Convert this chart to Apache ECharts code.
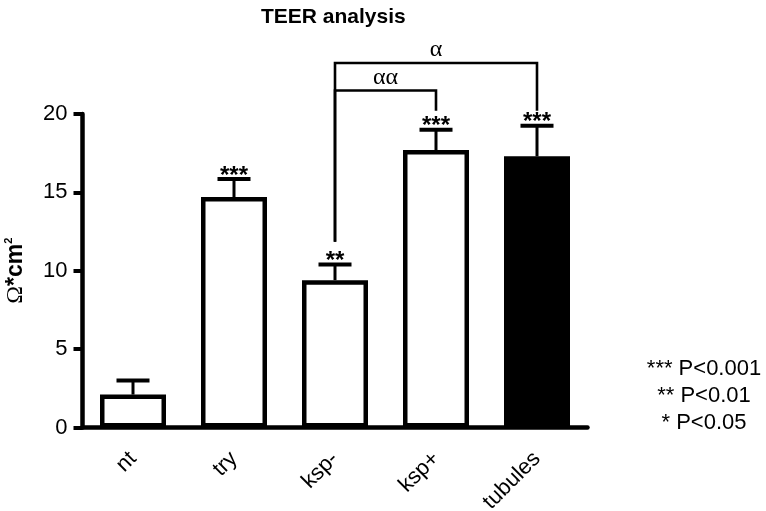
<!DOCTYPE html>
<html>
<head>
<meta charset="utf-8">
<script src="https://cdn.jsdelivr.net/npm/echarts@6/dist/echarts.min.js"></script>
<style>
html,body{margin:0;padding:0;background:#fff;}
#main{width:766px;height:511px;}
</style>
</head>
<body>
<div id="main"></div>
<script>
// values
var categories = ["nt", "try", "ksp-", "ksp+", "tubules"];
var means = [2.1, 14.7, 9.4, 17.7, 17.3];
var sems = [0.9, 1.15, 1.0, 1.3, 1.95];
var stars = ["", "***", "**", "***", "***"];
var yTicks = [0, 5, 10, 15, 20];
// comparison brackets: [from, to, label]
var brackets = [
    ["ksp-", "ksp+", "\u03b1\u03b1"],
    ["ksp-", "tubules", "\u03b1"]
];
var pLegend = ["*** P<0.001", "** P<0.01", "* P<0.05"];

var FONT = "'Liberation Sans', Arial, sans-serif";
var SERIF = "'Liberation Serif', 'DejaVu Serif', serif";

var chart = echarts.init(document.getElementById("main"));

var barData = [];
var errData = [];
for (var i = 0; i < categories.length; i++) {
    barData.push({
        value: means[i],
        itemStyle: { color: categories[i] == "tubules" ? "#000" : "#fff" }
    });
    errData.push([i, means[i], sems[i], stars[i]]);
}

var bracketData = [];
for (var j = 0; j < brackets.length; j++) {
    bracketData.push([categories.indexOf(brackets[j][0]), categories.indexOf(brackets[j][1]), j, brackets[j][2]]);
}

//误差线 + 星号
function renderError(params, api) {
    var x = api.value(0);
    var m = api.value(1);
    var s = api.value(2);
    var base = api.coord([x, m]);
    var top = api.coord([x, m + s]);
    var capHalf = 16.5;
    var children = [
        { type: "line", shape: { x1: top[0], y1: base[1], x2: top[0], y2: top[1] }, style: { stroke: "#000", lineWidth: 3 } },
        { type: "line", shape: { x1: top[0] - capHalf, y1: top[1], x2: top[0] + capHalf, y2: top[1] }, style: { stroke: "#000", lineWidth: 4 } }
    ];
    var label = errData[params.dataIndex][3];
    if (label) {
        children.push({
            type: "text",
            style: { text: label, x: top[0], y: top[1] + 9, align: "center", verticalAlign: "bottom", font: "bold 24px " + FONT, fill: "#000" }
        });
    }
    return { type: "group", children: children };
}

//比较括号
function renderBracket(params, api) {
    var a = api.value(0);
    var b = api.value(1);
    var lvl = api.value(2);
    var yLine = api.coord([a, 21.5 + 1.75 * lvl])[1];
    var pa = api.coord([a, 11.85]);
    var pb = api.coord([b, 20.2]);
    var label = bracketData[params.dataIndex][3];
    return {
        type: "group",
        children: [
            { type: "polyline", shape: { points: [[pa[0], pa[1]], [pa[0], yLine], [pb[0], yLine], [pb[0], pb[1]]] }, style: { stroke: "#000", lineWidth: 2.6, fill: null } },
            { type: "text", style: { text: label, x: (pa[0] + pb[0]) / 2, y: yLine - 1, align: "center", verticalAlign: "bottom", font: "24px " + SERIF, fill: "#000" } }
        ]
    };
}

var option = {
    animation: false,
    backgroundColor: "#fff",
    title: {
        text: "TEER analysis",
        left: 256,
        top: 2,
        textStyle: { fontFamily: FONT, fontWeight: "bold", fontSize: 21, color: "#000" }
    },
    grid: { left: 82.5, right: 178.5, top: 114, bottom: 83.5, containLabel: false, outerBoundsMode: "none" },
    xAxis: {
        type: "category",
        data: categories,
        axisLine: { lineStyle: { color: "#000", width: 4.5 } },
        axisTick: { alignWithLabel: true, length: 9, lineStyle: { color: "#000", width: 4 } },
        axisLabel: { rotate: 45, margin: 28, color: "#000", fontFamily: FONT, fontSize: 22 }
    },
    yAxis: {
        type: "value",
        min: yTicks[0],
        max: yTicks[yTicks.length - 1],
        interval: yTicks[1] - yTicks[0],
        name: "{o|\u03a9}{b|*cm}{s|2}",
        nameLocation: "middle",
        nameGap: 55,
        nameRotate: 90,
        nameTextStyle: {
            rich: {
                o: { fontFamily: SERIF, fontSize: 24, color: "#000" },
                b: { fontFamily: FONT, fontWeight: "bold", fontSize: 23, color: "#000" },
                s: { fontFamily: FONT, fontWeight: "bold", fontSize: 11, color: "#000", verticalAlign: "top", padding: [0, 0, 12, 0] }
            }
        },
        axisLine: { show: true, lineStyle: { color: "#000", width: 4.5 } },
        axisTick: { show: true, length: 9, lineStyle: { color: "#000", width: 4 } },
        axisLabel: { margin: 15, color: "#000", fontFamily: FONT, fontSize: 22 },
        splitLine: { show: false }
    },
    series: [
        {
            type: "bar",
            data: barData,
            barWidth: 66,
            itemStyle: { borderColor: "#000", borderWidth: 4.5 },
            z: 2
        },
        {
            type: "custom",
            data: errData,
            renderItem: renderError,
            clip: false,
            z: 3
        },
        {
            type: "custom",
            data: bracketData,
            renderItem: renderBracket,
            clip: false,
            z: 4
        }
    ],
    graphic: pLegend.map(function (t, k) {
        return {
            type: "text",
            x: 704,
            y: 369 + 27 * k,
            style: { text: t, align: "center", verticalAlign: "middle", font: "22px " + FONT, fill: "#000" }
        };
    })
};

chart.setOption(option);
</script>
</body>
</html>
